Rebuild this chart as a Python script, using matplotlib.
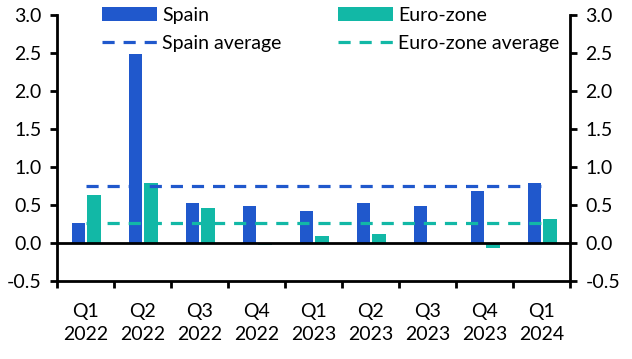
import numpy as np
import matplotlib.pyplot as plt

quarters = ["Q1\n2022", "Q2\n2022", "Q3\n2022", "Q4\n2022", "Q1\n2023",
            "Q2\n2023", "Q3\n2023", "Q4\n2023", "Q1\n2024"]
spain = [0.26, 2.49, 0.52, 0.49, 0.42, 0.52, 0.49, 0.68, 0.79]
euro = [0.63, 0.79, 0.46, -0.03, 0.09, 0.12, 0.0, -0.06, 0.32]
spain_avg = 0.75
euro_avg = 0.26

blue = "#2058cc"
teal = "#12b8a6"

plt.rcParams['font.family'] = ['Lato', 'DejaVu Sans']
plt.rcParams['font.size'] = 14

fig = plt.figure(figsize=(6.32, 3.59), dpi=100)
ax = fig.add_axes([57 / 632, 1 - 281 / 359, (570 - 57) / 632, (281 - 15) / 359])

x = np.arange(len(quarters))
w = 0.23
b1 = ax.bar(x - 0.13, spain, w, color=blue, label="Spain", zorder=2)
b2 = ax.bar(x + 0.15, euro, w, color=teal, label="Euro-zone", zorder=2)
l1, = ax.plot([x[0], x[-1]], [spain_avg, spain_avg], color=blue, lw=2.3,
              dashes=(3.8, 2.8), label="Spain average", zorder=3)
l2, = ax.plot([x[0], x[-1]], [euro_avg, euro_avg], color=teal, lw=2.3,
              dashes=(3.8, 2.8), label="Euro-zone average", zorder=3)
ax.axhline(0, color="black", lw=2, zorder=4)

ax.set_xlim(-0.5, len(quarters) - 0.5)
ax.set_ylim(-0.5, 3.0)
ticks = np.arange(-0.5, 3.01, 0.5)
ax.set_yticks(ticks)
ax.set_yticklabels([f"{v:.1f}" for v in ticks])
ax.set_xticks(np.arange(-0.5, len(quarters), 1.0))
ax.set_xticklabels([])
ax.set_xticks(x, minor=True)
ax.set_xticklabels(quarters, minor=True, linespacing=1.4)
ax.tick_params(axis="x", which="minor", length=0, pad=16)
ax.tick_params(axis="x", which="major", direction="out", length=5, width=2)
ax.tick_params(axis="y", direction="out", length=5, width=2,
               left=True, right=True, labelleft=True, labelright=True, pad=6)

for side in ["left", "right", "bottom"]:
    ax.spines[side].set_linewidth(2)
ax.spines["top"].set_visible(False)

ax.legend([b1, l1, b2, l2], ["Spain", "Spain average", "Euro-zone", "Euro-zone average"],
          ncol=2, loc="upper left", bbox_to_anchor=(0.088, 1.03), frameon=False,
          borderaxespad=0, borderpad=0,
          handlelength=2.8, columnspacing=2.9, handletextpad=0.3,
          labelspacing=0.55, fontsize=14)

fig.savefig("out.png", dpi=100)
